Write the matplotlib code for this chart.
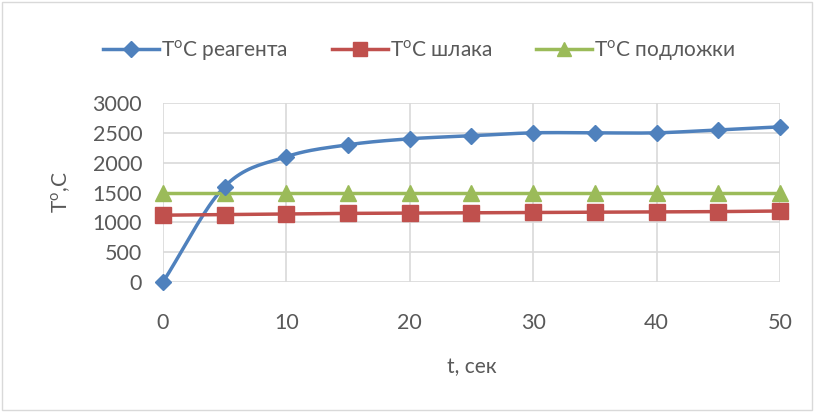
import numpy as np
import matplotlib
matplotlib.use("Agg")
import matplotlib.pyplot as plt
from matplotlib.patches import Rectangle

t = [0, 5, 10, 15, 20, 25, 30, 35, 40, 45, 50]
reagent = [0, 1600, 2100, 2300, 2400, 2450, 2500, 2500, 2500, 2550, 2600]
slag = [1120, 1130, 1140, 1150, 1155, 1160, 1165, 1170, 1175, 1180, 1190]
substrate = [1500, 1500, 1500, 1500, 1500, 1500, 1500, 1500, 1500, 1500, 1500]
labels = ["T$^{\\mathregular{o}}$C реагента", "T$^{\\mathregular{o}}$C шлака", "T$^{\\mathregular{o}}$C подложки"]
xticks = [0, 10, 20, 30, 40, 50]
yticks = [0, 500, 1000, 1500, 2000, 2500, 3000]


def smooth(x, y, n=20):
    x = np.asarray(x, float); y = np.asarray(y, float)
    px = np.concatenate([[2 * x[0] - x[1]], x, [2 * x[-1] - x[-2]]])
    py = np.concatenate([[2 * y[0] - y[1]], y, [2 * y[-1] - y[-2]]])
    xs, ys = [], []
    for i in range(1, len(px) - 2):
        s = np.linspace(0, 1, n, endpoint=False)
        for arr, out in ((px, xs), (py, ys)):
            p0, p1, p2, p3 = arr[i - 1], arr[i], arr[i + 1], arr[i + 2]
            out.append(0.5 * ((2 * p1) + (-p0 + p2) * s + (2 * p0 - 5 * p1 + 4 * p2 - p3) * s ** 2
                              + (-p0 + 3 * p1 - 3 * p2 + p3) * s ** 3))
    xs = np.concatenate(xs + [[x[-1]]]); ys = np.concatenate(ys + [[y[-1]]])
    return xs, ys

plt.rcParams['font.family'] = ['Lato', 'DejaVu Sans']
gray = "#595959"
fig = plt.figure(figsize=(8.14, 4.12), dpi=100)
fig.patches.append(Rectangle((0.003, 0.004), 0.994, 0.992, transform=fig.transFigure,
                             fill=False, edgecolor="#d9d9d9", linewidth=1))
ax = fig.add_axes([0.2002, 0.3155, 0.7580, 0.4345])

blue, red, green = "#4F81BD", "#C0504D", "#9BBB59"
sx, sy = smooth(t, reagent)
ax.plot(sx, sy, color=blue, lw=2.5, zorder=3)
ax.plot(t, reagent, ls="none", marker="D", ms=8, color=blue, zorder=4)
ax.plot(t, slag, color=red, lw=2.5, marker="s", ms=11, zorder=3)
ax.plot(t, substrate, color=green, lw=2.5, marker="^", ms=11, zorder=3)

h1 = plt.Line2D([], [], color=blue, lw=2.5, marker="D", ms=8)
h2 = plt.Line2D([], [], color=red, lw=2.5, marker="s", ms=10)
h3 = plt.Line2D([], [], color=green, lw=2.5, marker="^", ms=10)
fig.legend([h1, h2, h3], labels, loc="center", bbox_to_anchor=(0.515, 0.878), ncol=3,
           frameon=False, fontsize=15, handlelength=2.7, columnspacing=2.1, handletextpad=0.1,
           labelcolor=gray)

ax.set_xlim(0, 50)
ax.set_ylim(0, 3000)
ax.set_xticks(xticks)
ax.set_yticks(yticks)
ax.grid(True, color="#d9d9d9", lw=1.2)
ax.set_axisbelow(True)
for s in ax.spines.values():
    s.set_visible(False)
ax.tick_params(length=0, labelsize=15.5, labelcolor=gray, pad=15)
ax.tick_params(axis="x", pad=22)
ax.set_xlabel("t, сек", fontsize=15, color=gray, labelpad=18)
ax.set_ylabel("T$^{\\mathregular{o}}$,C", fontsize=15, color=gray, labelpad=14)
for l in ax.lines:
    l.set_clip_on(False)
fig.savefig("out.png", dpi=100)
